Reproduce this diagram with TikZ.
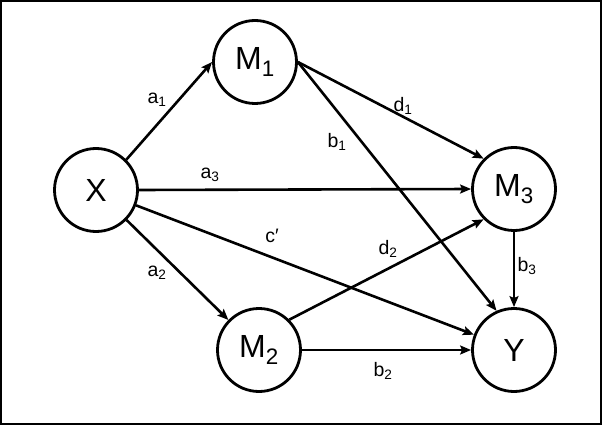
\documentclass[tikz,border=0pt]{standalone}
\usepackage{fontspec}
\setmainfont{Liberation Sans}
\usetikzlibrary{arrows.meta}
\tikzset{
        var/.style={circle, draw=black, line width=2.8pt, minimum size=83pt, inner sep=0pt, font=\fontsize{32}{36}\selectfont},
        path/.style={line width=2.6pt, -{Stealth[length=11pt, width=9pt, inset=2pt]}},
        lbl/.style={inner sep=0pt, font=\fontsize{19.5}{22}\selectfont},
        frame/.style={draw=black, line width=1.5pt}
          }

\begin{document}
\begin{tikzpicture}[x=1pt, y=-1pt]
        \useasboundingbox (0,0) rectangle (603,425);
        \draw[frame] (1,1) rectangle (601,424);
        % variables
        \node[var] (X) at (96,190) {X};
        \node[var] (M1) at (255,62) {M\textsubscript{1}};
        \node[var] (M2) at (259,350) {M\textsubscript{2}};
        \node[var] (M3) at (514,189) {M\textsubscript{3}};
        \node[var] (Y) at (514,350) {Y};
        % paths
        \draw[path] (X.45) -- (M1.west);
        \draw[path] (X.east) -- (M3.west);
        \draw[path] (X) -- (M2);
        \draw[path] (X) -- (Y);
        \draw[path] (M1.east) -- (M3.135);
        \draw[path] (M1.east) -- (Y.114);
        \draw[path] (M2.45) -- (M3.225);
        \draw[path] (M2.east) -- (Y.west);
        \draw[path] (M3.south) -- (Y.north);
        % coefficients
        \node[lbl] (la1) at (157,100) {a\textsubscript{1}};
        \node[lbl] (la3) at (210,175) {a\textsubscript{3}};
        \node[lbl] (lc) at (272,236) {c′};
        \node[lbl] (la2) at (157,273) {a\textsubscript{2}};
        \node[lbl] (lb1) at (337,142) {b\textsubscript{1}};
        \node[lbl] (ld1) at (403,106) {d\textsubscript{1}};
        \node[lbl] (ld2) at (388,249) {d\textsubscript{2}};
        \node[lbl] (lb2) at (383,371) {b\textsubscript{2}};
        \node[lbl] (lb3) at (527,266) {b\textsubscript{3}};
      \end{tikzpicture}
\end{document}
